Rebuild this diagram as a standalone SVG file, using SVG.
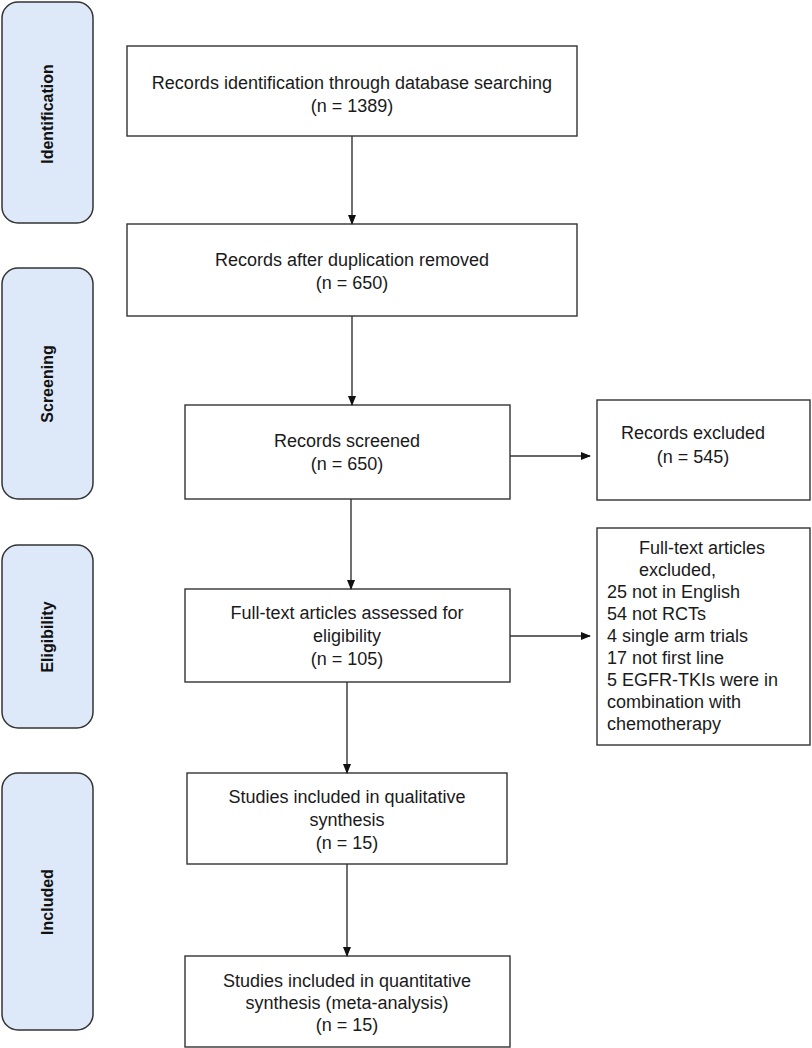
<svg xmlns="http://www.w3.org/2000/svg" width="812" height="1048" viewBox="0 0 812 1048">
<style>
.stage{fill:#dde9f8;stroke:#333;stroke-width:1.5}
.box{fill:#fff;stroke:#333;stroke-width:1.4}
.st{font-family:"Liberation Sans",Arial,sans-serif;font-weight:bold;font-size:16px;fill:#111;text-anchor:middle;dominant-baseline:central}
.t{font-family:"Liberation Sans",Arial,sans-serif;font-size:18px;fill:#1a1a1a;text-anchor:middle}
.tl{font-family:"Liberation Sans",Arial,sans-serif;font-size:18px;fill:#1a1a1a}
.c{stroke:#333;stroke-width:1.4;fill:none;marker-end:url(#ah)}
</style>
<defs>
<marker id="ah" markerWidth="10" markerHeight="8" refX="9" refY="4" orient="auto" markerUnits="userSpaceOnUse">
<path d="M0,0 L10,4 L0,8 Z" fill="#111"/>
</marker>
</defs>
<rect width="812" height="1048" fill="#fff"/>
<g id="stage-identification"><rect class="stage" x="2" y="2" width="91" height="221" rx="16"/><text class="st" transform="translate(47,114) rotate(-90)">Identification</text></g>
<g id="stage-screening"><rect class="stage" x="2" y="268" width="91" height="231" rx="16"/><text class="st" transform="translate(47,384) rotate(-90)">Screening</text></g>
<g id="stage-eligibility"><rect class="stage" x="2" y="545" width="91" height="183" rx="16"/><text class="st" transform="translate(47,637) rotate(-90)">Eligibility</text></g>
<g id="stage-included"><rect class="stage" x="2" y="773" width="91" height="257" rx="16"/><text class="st" transform="translate(47,902) rotate(-90)">Included</text></g>

<g id="n-identified"><rect class="box" x="127" y="46" width="450" height="90"/><text class="t" x="352" y="89">Records identification through database searching</text><text class="t" x="352" y="112">(n = 1389)</text></g>
<g id="n-dedup"><rect class="box" x="127" y="224" width="450" height="92"/><text class="t" x="352" y="266">Records after duplication removed</text><text class="t" x="352" y="289">(n = 650)</text></g>
<g id="n-screened"><rect class="box" x="185" y="405" width="325" height="94"/><text class="t" x="347" y="447">Records screened</text><text class="t" x="347" y="470">(n = 650)</text></g>
<g id="n-excluded"><rect class="box" x="597" y="400" width="213" height="100"/><text class="t" x="693" y="439">Records excluded</text><text class="t" x="693" y="463">(n = 545)</text></g>
<g id="n-assessed"><rect class="box" x="185" y="589" width="325" height="93"/><text class="t" x="347" y="619">Full-text articles assessed for</text><text class="t" x="347" y="642">eligibility</text><text class="t" x="347" y="665">(n = 105)</text></g>
<g id="n-ft-excluded"><rect class="box" x="597" y="528" width="213" height="217"/>
<text class="tl" x="639" y="554">Full-text articles</text>
<text class="tl" x="639" y="576">excluded,</text>
<text class="tl" x="607" y="598">25 not in English</text>
<text class="tl" x="607" y="620">54 not RCTs</text>
<text class="tl" x="607" y="642">4 single arm trials</text>
<text class="tl" x="607" y="664">17 not first line</text>
<text class="tl" x="607" y="686">5 EGFR-TKIs were in</text>
<text class="tl" x="607" y="708">combination with</text>
<text class="tl" x="607" y="730">chemotherapy</text>
</g>
<g id="n-qualitative"><rect class="box" x="187" y="773" width="320" height="91"/><text class="t" x="347" y="803">Studies included in qualitative</text><text class="t" x="347" y="826">synthesis</text><text class="t" x="347" y="849">(n = 15)</text></g>
<g id="n-quantitative"><rect class="box" x="185" y="956" width="325" height="91"/><text class="t" x="347" y="987">Studies included in quantitative</text><text class="t" x="347" y="1009">synthesis (meta-analysis)</text><text class="t" x="347" y="1031">(n = 15)</text></g>

<g id="connectors">
<line class="c" x1="352" y1="136" x2="352" y2="224"/>
<line class="c" x1="352" y1="316" x2="352" y2="405"/>
<line class="c" x1="351" y1="499" x2="351" y2="589"/>
<line class="c" x1="347" y1="682" x2="347" y2="773"/>
<line class="c" x1="347" y1="864" x2="347" y2="956"/>
<line class="c" x1="510" y1="456" x2="590" y2="456"/>
<line class="c" x1="510" y1="636" x2="590" y2="636"/>
</g>
</svg>
